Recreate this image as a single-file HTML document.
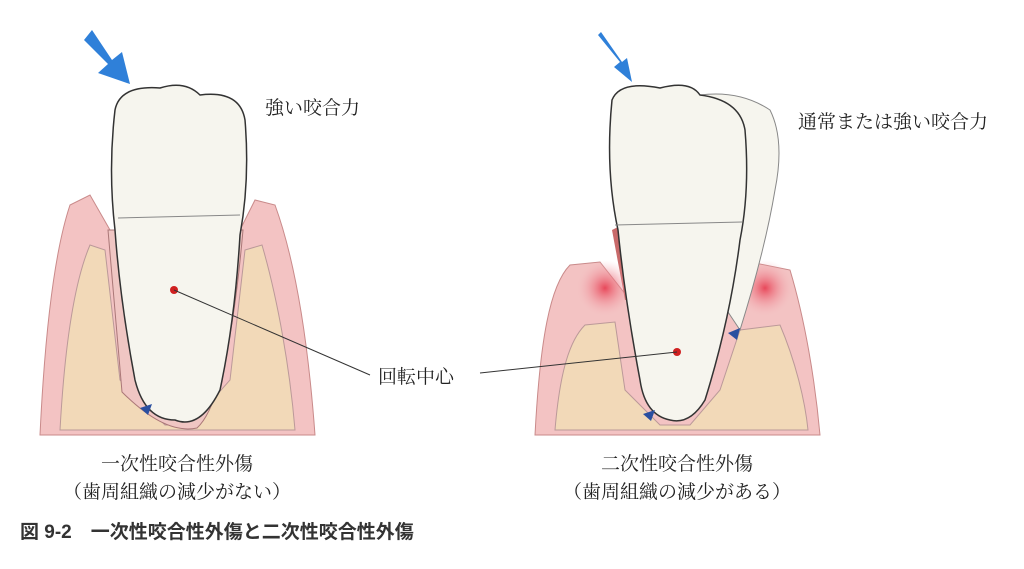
<!DOCTYPE html>
<html><head><meta charset="utf-8"><style>
body{margin:0;background:#fff;width:1024px;height:569px;overflow:hidden}
svg{display:block}
text{font-family:"Liberation Serif","Noto Serif CJK SC",serif;fill:#222}
</style></head><body>
<svg width="1024" height="569" viewBox="0 0 1024 569">
<defs>
<radialGradient id="rg"><stop offset="0" stop-color="#e8485a"/><stop offset="1" stop-color="#f4b6bc" stop-opacity="0"/></radialGradient>
</defs>
<!-- LEFT -->
<path d="M40,435 C45,330 55,250 70,205 L90,195 L110,230 L240,230 L255,200 L275,205 C295,260 308,340 315,435 Z" fill="#f3c3c3" stroke="#c98a8a"/>
<path d="M60,430 C65,340 75,280 90,245 L105,250 L120,380 L165,425 L190,425 L230,380 L245,250 L262,245 C278,300 290,370 295,430 Z" fill="#f2d9b8" stroke="#b99"/>
<path d="M108,230 L122,392 Q165,435 197,428 Q228,400 243,230 Z" fill="#f0c6c3" stroke="#a77"/>
<path d="M115,110 Q120,85 160,88 Q185,80 200,95 Q240,90 245,120 Q250,180 240,235 Q235,320 220,390 Q200,430 175,420 Q145,420 135,380 Q120,300 115,230 Q108,170 115,110 Z" fill="#f6f5ee" stroke="#333" stroke-width="1.5"/>
<line x1="118" y1="218" x2="240" y2="215" stroke="#888"/>
<path d="M84,40 L108,64 L98,73 L130,84 L122,52 L112,60 L92,30 Z" fill="#2f80d9"/>
<path d="M140,408 L152,404 L148,415 Z" fill="#2a4fa0"/>
<circle cx="174" cy="290" r="4" fill="#d02020"/>
<line x1="174" y1="290" x2="370" y2="375" stroke="#333"/>
<!-- RIGHT -->
<path d="M535,435 C540,340 550,285 570,265 L600,262 L630,300 L735,300 L750,262 L790,270 C805,320 815,380 820,435 Z" fill="#f3c3c3" stroke="#c98a8a"/>
<path d="M612,230 L622,225 L632,300 L625,300 Z" fill="#c86a6a"/>
<path d="M732,228 L744,230 L738,300 L730,300 Z" fill="#c86a6a"/>
<circle cx="605" cy="288" r="28" fill="url(#rg)"/>
<circle cx="765" cy="288" r="28" fill="url(#rg)"/>
<path d="M555,430 C560,370 570,340 585,325 L615,322 L625,390 L660,425 L690,425 L720,390 L740,330 L780,325 C795,360 805,400 808,430 Z" fill="#f2d9b8" stroke="#b99"/>
<path d="M700,95 Q740,90 770,110 Q785,140 775,190 Q765,250 740,330 L720,300 Z" fill="#f6f5ee" stroke="#888"/>
<path d="M612,100 Q620,80 660,88 Q690,80 700,95 Q740,100 745,130 Q750,190 740,240 Q730,320 705,400 Q690,425 670,420 Q645,415 640,380 Q625,300 618,230 Q605,170 612,100 Z" fill="#f6f5ee" stroke="#333" stroke-width="1.5"/>
<line x1="615" y1="225" x2="742" y2="222" stroke="#888"/>
<path d="M598,35 L620,62 L614,67 L632,82 L627,58 L622,62 L601,32 Z" fill="#2f80d9"/>
<path d="M643,414 L655,410 L651,421 Z" fill="#2a4fa0"/>
<path d="M728,333 L740,328 L737,340 Z" fill="#2a4fa0"/>
<circle cx="677" cy="352" r="4" fill="#d02020"/>
<line x1="480" y1="373" x2="677" y2="352" stroke="#333"/>
<!-- TEXT -->
<text x="265" y="114" font-size="19">強い咬合力</text>
<text x="798" y="128" font-size="19">通常または強い咬合力</text>
<text x="378" y="383" font-size="19">回転中心</text>
<text x="177" y="470" font-size="19" text-anchor="middle">一次性咬合性外傷</text>
<text x="177" y="498" font-size="19" text-anchor="middle">（歯周組織の減少がない）</text>
<text x="677" y="470" font-size="19" text-anchor="middle">二次性咬合性外傷</text>
<text x="677" y="498" font-size="19" text-anchor="middle">（歯周組織の減少がある）</text>
<text x="20" y="538" font-size="19" style="font-family:'Liberation Sans','Noto Sans CJK JP',sans-serif;font-weight:bold;fill:#333">図 9-2　一次性咬合性外傷と二次性咬合性外傷</text>
</svg>
</body></html>
